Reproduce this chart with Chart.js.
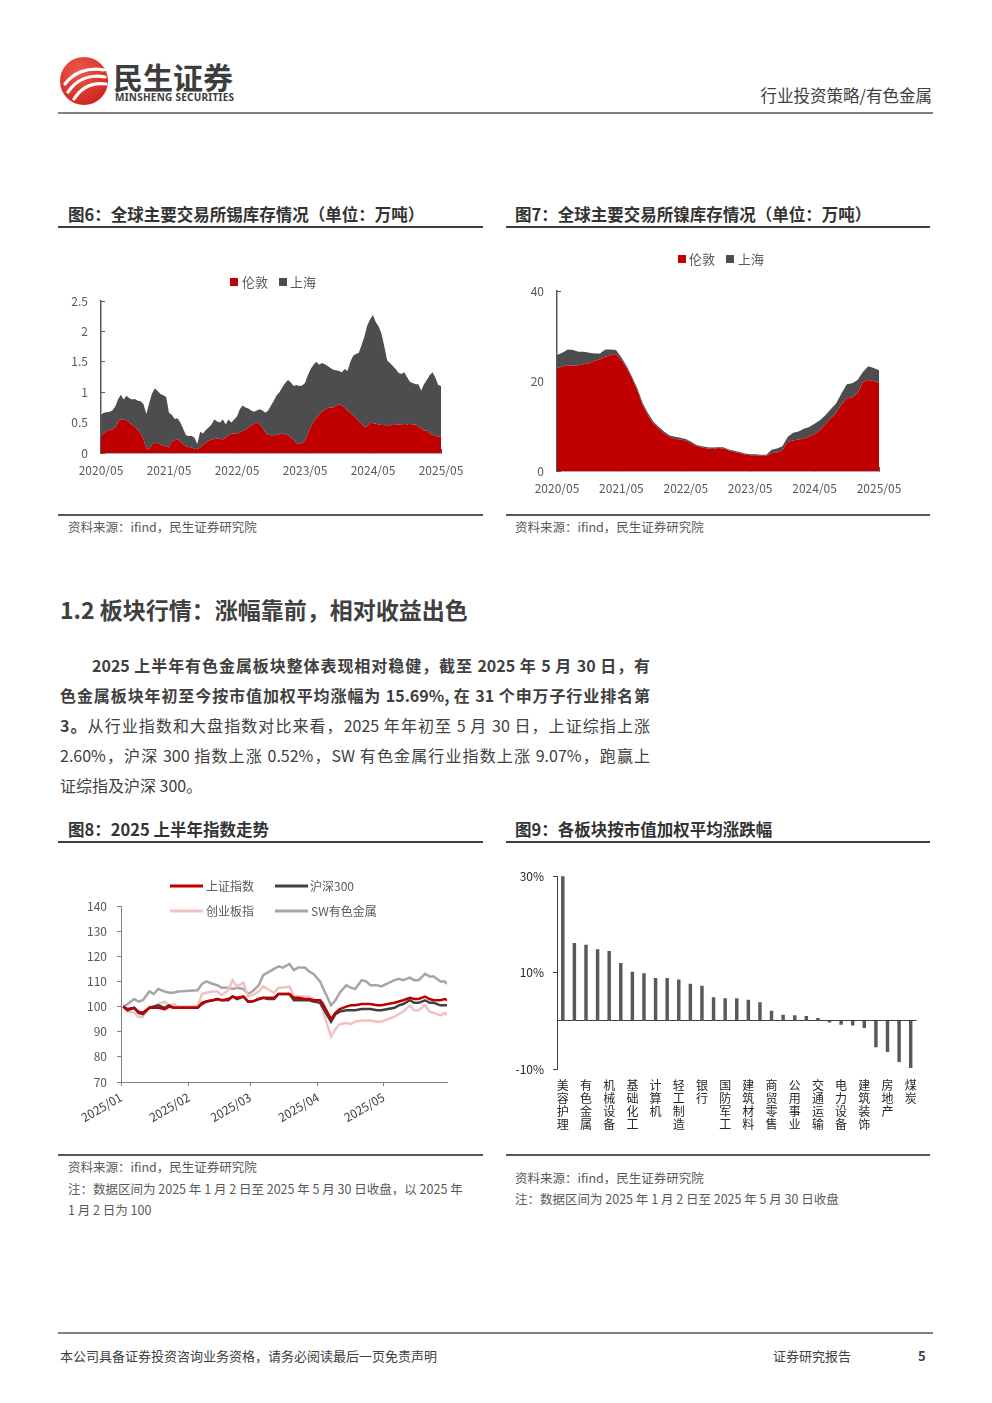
<!DOCTYPE html>
<html lang="zh">
<head>
<meta charset="utf-8">
<title>行业投资策略/有色金属</title>
<script src="https://cdn.jsdelivr.net/npm/chart.js@4.4.1/dist/chart.umd.min.js"></script>
<style>
  html, body { margin: 0; padding: 0; background: #fff; }
  body { width: 992px; height: 1403px; position: relative; overflow: hidden;
         font-family: "Noto Sans CJK SC", "Noto Sans", sans-serif; color: #404040; }
  .t { position: absolute; white-space: nowrap; }
  .rule { position: absolute; height: 2px; }
  .chart { position: absolute; }
  .fig { font-size: 16.5px; font-weight: bold; line-height: 22px; color: #333; }
  .src { font-size: 12.5px; line-height: 18px; color: #595959; }
  .para { position: absolute; left: 60px; width: 590px; font-size: 16px; line-height: 30px; white-space: nowrap; }
  .full { text-align: justify; text-align-last: justify; }
  b { font-weight: bold; }
</style>
</head>
<body>

<!-- header -->
<svg class="chart" style="left:58px;top:55px" width="52" height="52" viewBox="0 0 52 52">
  <defs>
    <radialGradient id="lg" cx="0.4" cy="0.3" r="0.8">
      <stop offset="0" stop-color="#f05a4c"/>
      <stop offset="1" stop-color="#c91f1a"/>
    </radialGradient>
  </defs>
  <circle cx="26" cy="26" r="24" fill="url(#lg)"/>
  <path d="M7 29 C15 18 29 12 46 15" stroke="#fff" stroke-width="3.2" fill="none" stroke-linecap="round"/>
  <path d="M10 37 C18 25 31 19 47 22" stroke="#fff" stroke-width="3.2" fill="none" stroke-linecap="round"/>
  <path d="M16 44 C23 33 34 27 48 29" stroke="#fff" stroke-width="3.2" fill="none" stroke-linecap="round"/>
</svg>
<div class="t" style="left:113px;top:58px;font-size:30px;line-height:36px;font-weight:bold;color:#3d3d3d">民生证券</div>
<div class="t" style="left:115px;top:91px;font-family:'Noto Sans';font-size:10px;line-height:12px;font-weight:bold;color:#3d3d3d;letter-spacing:0.25px">MINSHENG SECURITIES</div>
<div class="t" style="right:60px;top:84px;font-size:16.5px;line-height:22px;color:#404040">行业投资策略/有色金属</div>
<div class="rule" style="left:58px;top:112px;width:875px;background:#808080"></div>

<!-- figure 6 / 7 -->
<div class="t fig" style="left:68px;top:203px">图6：全球主要交易所锡库存情况（单位：万吨）</div>
<div class="t fig" style="left:515px;top:203px">图7：全球主要交易所镍库存情况（单位：万吨）</div>
<div class="rule" style="left:58px;top:226px;width:425px;background:#404040"></div>
<div class="rule" style="left:506px;top:226px;width:424px;background:#404040"></div>

<div class="chart" style="left:58px;top:262px;width:430px;height:224px"><canvas id="chart_tin"></canvas></div>
<div class="chart" style="left:506px;top:240px;width:424px;height:265px"><canvas id="chart_nickel"></canvas></div>

<div class="rule" style="left:58px;top:514px;width:425px;background:#595959"></div>
<div class="rule" style="left:506px;top:514px;width:424px;background:#595959"></div>
<div class="t src" style="left:68px;top:518px">资料来源：ifind，民生证券研究院</div>
<div class="t src" style="left:515px;top:518px">资料来源：ifind，民生证券研究院</div>

<!-- section text -->
<div class="t" style="left:60px;top:593px;font-size:23px;line-height:32px;font-weight:bold;color:#404040">1.2 板块行情：涨幅靠前，相对收益出色</div>
<div class="para full" style="top:650px;text-indent:2em"><b>2025 上半年有色金属板块整体表现相对稳健，截至 2025 年 5 月 30 日，有</b></div>
<div class="para full" style="top:680px"><b>色金属板块年初至今按市值加权平均涨幅为 15.69%, 在 31 个申万子行业排名第</b></div>
<div class="para full" style="top:710px"><b>3。</b>从行业指数和大盘指数对比来看，2025 年年初至 5 月 30 日，上证综指上涨</div>
<div class="para full" style="top:740px">2.60%，沪深 300 指数上涨 0.52%，SW 有色金属行业指数上涨 9.07%，跑赢上</div>
<div class="para" style="top:770px">证综指及沪深 300。</div>

<!-- figure 8 / 9 -->
<div class="t fig" style="left:68px;top:818px">图8：2025 上半年指数走势</div>
<div class="t fig" style="left:515px;top:818px">图9：各板块按市值加权平均涨跌幅</div>
<div class="rule" style="left:58px;top:841px;width:425px;background:#404040"></div>
<div class="rule" style="left:506px;top:841px;width:424px;background:#404040"></div>

<div class="chart" style="left:58px;top:866px;width:430px;height:264px"><canvas id="chart_index"></canvas></div>
<div class="chart" style="left:506px;top:860px;width:424px;height:280px"><canvas id="chart_sector"></canvas></div>

<div class="rule" style="left:58px;top:1154px;width:425px;background:#595959"></div>
<div class="rule" style="left:506px;top:1154px;width:424px;background:#595959"></div>
<div class="t src" style="left:68px;top:1158px">资料来源：ifind，民生证券研究院</div>
<div class="t src" style="left:68px;top:1180px">注：数据区间为 2025 年 1 月 2 日至 2025 年 5 月 30 日收盘，以 2025 年</div>
<div class="t src" style="left:68px;top:1201px">1 月 2 日为 100</div>
<div class="t src" style="left:515px;top:1169px">资料来源：ifind，民生证券研究院</div>
<div class="t src" style="left:515px;top:1190px">注：数据区间为 2025 年 1 月 2 日至 2025 年 5 月 30 日收盘</div>

<!-- footer -->
<div class="rule" style="left:58px;top:1332px;width:875px;background:#808080"></div>
<div class="t" style="left:60px;top:1347px;font-size:13px;line-height:18px;color:#404040">本公司具备证券投资咨询业务资格，请务必阅读最后一页免责声明</div>
<div class="t" style="left:773px;top:1347px;font-size:13px;line-height:18px;color:#404040">证券研究报告</div>
<div class="t" style="left:918px;top:1347px;font-size:13px;line-height:18px;font-weight:bold;color:#404040">5</div>

<script>
// 图6 锡库存（万吨），半月一个点
const tinTicks = ["2020/05", "2021/05", "2022/05", "2023/05", "2024/05", "2025/05"];
const tinLondon = [
  0.27, 0.33, 0.36, 0.38, 0.39, 0.42, 0.50, 0.55, 0.55, 0.54,
  0.50, 0.46, 0.43, 0.38, 0.32, 0.22, 0.08, 0.06, 0.14, 0.17,
  0.16, 0.14, 0.12, 0.11, 0.09, 0.19, 0.21, 0.23, 0.19, 0.14,
  0.11, 0.10, 0.09, 0.07, 0.06, 0.09, 0.14, 0.17, 0.20, 0.22,
  0.23, 0.24, 0.23, 0.22, 0.25, 0.29, 0.32, 0.32, 0.31, 0.34,
  0.36, 0.38, 0.42, 0.45, 0.48, 0.50, 0.47, 0.42, 0.33, 0.30,
  0.29, 0.29, 0.30, 0.31, 0.32, 0.31, 0.29, 0.25, 0.22, 0.16,
  0.15, 0.16, 0.20, 0.32, 0.42, 0.52, 0.58, 0.63, 0.68, 0.71,
  0.74, 0.75, 0.74, 0.78, 0.80, 0.78, 0.75, 0.70, 0.66, 0.62,
  0.58, 0.52, 0.48, 0.42, 0.45, 0.50, 0.49, 0.48, 0.47, 0.46,
  0.46, 0.44, 0.45, 0.48, 0.46, 0.47, 0.46, 0.48, 0.47, 0.48,
  0.47, 0.47, 0.44, 0.40, 0.37, 0.37, 0.32, 0.30, 0.28, 0.27,
  0.27
];
const tinShanghai = [
  0.36, 0.33, 0.31, 0.30, 0.31, 0.34, 0.38, 0.41, 0.33, 0.40,
  0.40, 0.42, 0.46, 0.48, 0.53, 0.58, 0.56, 0.76, 0.84, 0.89,
  0.86, 0.83, 0.83, 0.81, 0.57, 0.44, 0.35, 0.34, 0.31, 0.26,
  0.18, 0.18, 0.19, 0.18, 0.09, 0.26, 0.18, 0.21, 0.22, 0.25,
  0.32, 0.28, 0.27, 0.33, 0.22, 0.26, 0.18, 0.23, 0.29, 0.38,
  0.42, 0.37, 0.31, 0.25, 0.20, 0.20, 0.25, 0.28, 0.33, 0.40,
  0.49, 0.57, 0.65, 0.69, 0.76, 0.84, 0.91, 0.91, 0.88, 0.96,
  0.95, 0.95, 0.95, 0.96, 0.96, 0.93, 0.92, 0.82, 0.80, 0.75,
  0.69, 0.65, 0.63, 0.58, 0.55, 0.55, 0.63, 0.65, 0.84, 0.98,
  1.05, 1.13, 1.30, 1.50, 1.65, 1.70, 1.78, 1.67, 1.61, 1.50,
  1.29, 1.08, 1.03, 0.95, 0.92, 0.85, 0.84, 0.85, 0.78, 0.69,
  0.68, 0.66, 0.69, 0.63, 0.76, 0.83, 0.96, 1.03, 0.96, 0.85,
  0.83
];

// 图7 镍库存（万吨），月度
const nickelTicks = ["2020/05", "2021/05", "2022/05", "2023/05", "2024/05", "2025/05"];
const nickelLondon = [
  22.9, 23.2, 23.5, 23.4, 23.5, 23.7, 24.0, 24.5, 24.8, 25.4,
  25.7, 26.0, 24.6, 22.9, 20.6, 17.8, 14.5, 12.2, 10.5, 9.4,
  8.3, 7.6, 7.1, 7.0, 6.8, 6.1, 5.6, 5.2, 5.0, 4.9,
  5.1, 5.0, 4.6, 4.2, 4.0, 3.6, 3.5, 3.5, 3.4, 3.4,
  4.0, 4.1, 4.6, 6.5, 6.8, 7.0, 7.2, 7.6, 8.2, 9.1,
  10.4, 11.7, 12.9, 14.8, 16.1, 16.4, 17.3, 19.8, 20.2, 20.0,
  19.6
];
const nickelShanghai = [
  2.9, 3.1, 3.5, 3.5, 3.0, 2.8, 2.3, 1.6, 1.3, 1.6,
  1.3, 0.9, 0.6, 0.4, 0.3, 0.5, 0.5, 0.6, 0.4, 0.4,
  0.4, 0.3, 0.5, 0.4, 0.3, 0.4, 0.2, 0.3, 0.3, 0.3,
  0.2, 0.3, 0.2, 0.3, 0.2, 0.3, 0.2, 0.2, 0.2, 0.2,
  0.7, 0.9, 0.9, 1.1, 1.7, 1.8, 2.2, 2.2, 2.3, 2.2,
  2.0, 2.0, 2.1, 2.4, 3.2, 3.1, 2.9, 2.2, 3.1, 2.9,
  2.8
];

// 图8 指数走势，x 为 2025 年 1 月 1 日起的天数
const idxTicks = ["2025/01", "2025/02", "2025/03", "2025/04", "2025/05"];
const idxTickDays = [0, 31, 59, 90, 120];
const idxDays = [
  1, 3, 6, 8, 10, 13, 15, 17, 20, 22,
  24, 26, 35, 37, 39, 42, 44, 46, 49, 51,
  53, 56, 58, 60, 63, 65, 67, 70, 72, 74,
  77, 79, 81, 84, 86, 88, 91, 92, 96, 98,
  100, 103, 105, 107, 110, 112, 114, 117, 119, 125,
  127, 129, 132, 134, 136, 139, 141, 143, 146, 148,
  149
];
const shComposite = [
  100, 99, 99.5, 98, 97.5, 99.5, 99.5, 99.5, 99, 100,
  99.5, 99.5, 99.5, 101.5, 102, 102.5, 103, 102.5, 103, 104,
  103.5, 104, 102, 102, 103, 103.5, 103.5, 103.5, 105, 105,
  105, 103.5, 103.5, 103, 103, 102.5, 102.5, 101.5, 95, 97.5,
  99, 100, 100.5, 100.5, 101, 101, 101, 100.5, 100.5, 101.5,
  102, 102.5, 103.5, 103, 103, 104, 103, 102.5, 102.5, 103,
  102.5
];
const hs300 = [
  100, 98.5, 99.5, 97.5, 97, 99.5, 100, 100.5, 99.5, 100.5,
  99.5, 99.5, 99.5, 101, 102, 102.5, 103, 102.5, 102.5, 104,
  103, 104, 102, 102, 103, 103.5, 103, 103, 105, 105,
  105, 102.5, 102.5, 102.5, 102.5, 102, 101.5, 100, 94, 97,
  98, 98.5, 98.5, 98.5, 99, 99, 99, 98.5, 98.5, 99.5,
  100.5, 101, 102.5, 101.5, 101.5, 102.5, 101.5, 101.5, 100.5, 100.5,
  100.5
];
const chinext = [
  100, 98, 97.5, 96, 96, 100, 99.5, 101, 102, 100,
  101, 100, 100, 105, 105.5, 106, 106, 104.5, 106.5, 110.5,
  108, 109.5, 104, 104.5, 106, 108, 107, 105.5, 107.5, 107.5,
  108, 104, 104, 104, 104, 103, 101.5, 99, 88, 91,
  93, 93.5, 93, 94, 94.5, 94.5, 94.5, 94, 94, 96,
  97, 98, 100.5, 98.5, 98.5, 100.5, 98, 97.5, 96.5, 97.5,
  96.5
];
const swNonferrous = [
  100, 101, 103, 102, 102.5, 106, 105, 107, 106, 105.5,
  105.5, 106, 106.5, 109, 110, 109, 108.5, 107.5, 107.5, 107,
  107.5, 107, 105, 106, 108.5, 112.5, 113.5, 115, 116, 115.5,
  117, 114.5, 115.5, 115.5, 114, 113, 110, 108, 100.5, 102.5,
  105.5, 108.5, 107.5, 107, 110.5, 110, 108.5, 108.5, 108, 110.5,
  111, 110.5, 111.5, 110.5, 110.5, 113, 112, 112, 110, 110,
  109
];

// 图9 各板块涨跌幅（%）
const sectors = [
  "美容护理", "综合", "有色金属", "汽车", "机械设备", "医药生物", "基础化工", "传媒",
  "计算机", "环保", "轻工制造", "纺织服饰", "银行", "农林牧渔", "国防军工", "钢铁",
  "建筑材料", "社会服务", "商贸零售", "家用电器", "公用事业", "通信", "交通运输", "电子",
  "电力设备", "石油石化", "建筑装饰", "食品饮料", "房地产", "非银金融", "煤炭"
];
const sectorReturns = [
  30.0, 16.05, 15.69, 14.8, 14.4, 11.9, 10.1, 9.8,
  8.8, 8.8, 8.5, 7.6, 7.2, 4.8, 4.6, 4.6,
  4.3, 3.8, 2.0, 1.2, 1.1, 0.95, 0.5, -0.3,
  -0.75, -0.9, -1.4, -5.4, -6.4, -8.5, -9.7
];

Chart.defaults.font.family = '"Noto Sans CJK SC", "Noto Sans", sans-serif';
Chart.defaults.font.size = 12;
Chart.defaults.color = "#595959";
Chart.defaults.animation = false;

// 图例：颜色和文字取自数据集
const legendBox = {
  id: "legendBox",
  afterDraw(chart, args, opts) {
    const ctx = chart.ctx;
    ctx.save();
    ctx.font = opts.font;
    ctx.textBaseline = "middle";
    opts.items.forEach((it) => {
      const ds = chart.data.datasets[it.ds];
      if (it.kind === "box") {
        ctx.fillStyle = ds.backgroundColor;
        ctx.fillRect(it.x, it.y - 4, 8, 8);
      } else {
        ctx.strokeStyle = ds.borderColor;
        ctx.lineWidth = 3;
        ctx.beginPath();
        ctx.moveTo(it.x, it.y);
        ctx.lineTo(it.x + 33, it.y);
        ctx.stroke();
      }
      ctx.fillStyle = "#595959";
      ctx.fillText(ds.label, it.tx, it.y);
    });
    ctx.restore();
  },
};

function desenharEstoque(canvasId, ticks, london, shanghai, every, yMax, yStep, pad, legendItems) {
  const labels = london.map((_, i) => ticks[i / every] || "");
  new Chart(document.getElementById(canvasId), {
    type: "line",
    data: {
      labels: labels,
      datasets: [
        { label: "伦敦", data: london, fill: "origin", backgroundColor: "#c00000", borderColor: "#c00000", borderWidth: 0, pointRadius: 0 },
        { label: "上海", data: shanghai, fill: "-1", backgroundColor: "#4d4d4f", borderColor: "#4d4d4f", borderWidth: 0, pointRadius: 0 },
      ],
    },
    options: {
      responsive: true,
      maintainAspectRatio: false,
      layout: { padding: { top: pad.top, right: pad.right, left: 0, bottom: 0 } },
      scales: {
        x: {
          afterFit: (s) => { s.height = pad.xh; },
          grid: { drawOnChartArea: false, tickLength: -4, tickColor: (c) => (labels[c.index] ? "#595959" : "transparent") },
          border: { color: "#595959", width: 1.5 },
          ticks: { autoSkip: false, maxRotation: 0, minRotation: 0, padding: 14 },
        },
        y: {
          stacked: true,
          min: 0,
          max: yMax,
          afterFit: (s) => { s.width = pad.yw; },
          grid: { drawOnChartArea: false, tickLength: -4, tickColor: "#595959" },
          border: { color: "#595959", width: 1.5 },
          ticks: { stepSize: yStep, padding: 17, callback: (v) => String(v) },
        },
      },
      plugins: {
        legend: { display: false },
        tooltip: { enabled: false },
        legendBox: { font: '13px "Noto Sans CJK SC"', items: legendItems },
      },
    },
    plugins: [legendBox],
  });
}

function desenharIndices() {
  const pts = (arr) => idxDays.map((d, i) => ({ x: d, y: arr[i] }));
  const line = (label, arr, color) => ({
    label: label, data: pts(arr), borderColor: color, backgroundColor: color,
    borderWidth: 2.5, pointRadius: 0, fill: false,
  });
  new Chart(document.getElementById("chart_index"), {
    type: "line",
    data: {
      datasets: [
        line("上证指数", shComposite, "#c00000"),
        line("沪深300", hs300, "#404040"),
        line("创业板指", chinext, "#f2c2c2"),
        line("SW有色金属", swNonferrous, "#a6a6a6"),
      ],
    },
    options: {
      responsive: true,
      maintainAspectRatio: false,
      layout: { padding: { top: 40, right: 41, left: 0, bottom: 0 } },
      scales: {
        x: {
          type: "linear",
          min: 0,
          max: 149,
          afterFit: (s) => { s.height = 48; },
          afterBuildTicks: (s) => { s.ticks = idxTickDays.map((v) => ({ value: v })); },
          grid: { drawOnChartArea: false, tickLength: 4, tickColor: "#808080" },
          border: { color: "#808080", width: 1 },
          ticks: { minRotation: 30, maxRotation: 30, padding: 4, color: "#404040", callback: (v) => idxTicks[idxTickDays.indexOf(v)] },
        },
        y: {
          min: 70,
          max: 140,
          afterFit: (s) => { s.width = 63; },
          grid: { drawOnChartArea: false, tickLength: 4, tickColor: "#808080" },
          border: { color: "#808080", width: 1 },
          ticks: { stepSize: 10, padding: 10 },
        },
      },
      plugins: {
        legend: { display: false },
        tooltip: { enabled: false },
        legendBox: {
          font: '12px "Noto Sans CJK SC"',
          items: [
            { ds: 0, kind: "line", x: 112, y: 20, tx: 148 },
            { ds: 1, kind: "line", x: 217, y: 20, tx: 252 },
            { ds: 2, kind: "line", x: 112, y: 45, tx: 148 },
            { ds: 3, kind: "line", x: 217, y: 45, tx: 253 },
          ],
        },
      },
    },
    plugins: [legendBox],
  });
}

function desenharSetores() {
  const shown = (v) => v === 30 || v === 10 || v === -10;
  new Chart(document.getElementById("chart_sector"), {
    type: "bar",
    data: {
      labels: sectors,
      datasets: [{ label: "涨跌幅", data: sectorReturns, backgroundColor: "#595959", barThickness: 2.8 }],
    },
    options: {
      responsive: true,
      maintainAspectRatio: false,
      layout: { padding: { top: 13, right: 13.5, left: 0, bottom: 0 } },
      scales: {
        x: {
          afterFit: (s) => { s.height = 71; },
          grid: { display: false },
          border: { display: false },
          ticks: {
            autoSkip: false, maxRotation: 0, minRotation: 0, padding: 2, color: "#262626",
            font: { size: 12, lineHeight: 1.08 },
            callback: (v, i) => (i % 2 ? "" : sectors[i].split("")),
          },
        },
        y: {
          min: -10,
          max: 30,
          afterFit: (s) => { s.width = 51; },
          grid: {
            color: (c) => (c.tick.value === 0 ? "#404040" : "transparent"),
            tickColor: (c) => (shown(c.tick.value) ? "#404040" : "transparent"),
            tickLength: 4,
          },
          border: { color: "#404040", width: 1 },
          ticks: { stepSize: 10, padding: 9, color: "#262626", callback: (v) => (shown(v) ? v + "%" : "") },
        },
      },
      plugins: { legend: { display: false }, tooltip: { enabled: false } },
    },
  });
}

desenharEstoque("chart_tin", tinTicks, tinLondon, tinShanghai, 24, 2.5, 0.5,
  { top: 39, right: 47, xh: 33, yw: 43 },
  [{ ds: 0, kind: "box", x: 172, y: 20, tx: 184 }, { ds: 1, kind: "box", x: 221, y: 20, tx: 232 }]);
desenharEstoque("chart_nickel", nickelTicks, nickelLondon, nickelShanghai, 12, 40, 20,
  { top: 51, right: 51, xh: 34, yw: 51 },
  [{ ds: 0, kind: "box", x: 172, y: 19, tx: 183 }, { ds: 1, kind: "box", x: 220, y: 19, tx: 232 }]);
desenharIndices();
desenharSetores();
</script>
</body>
</html>
